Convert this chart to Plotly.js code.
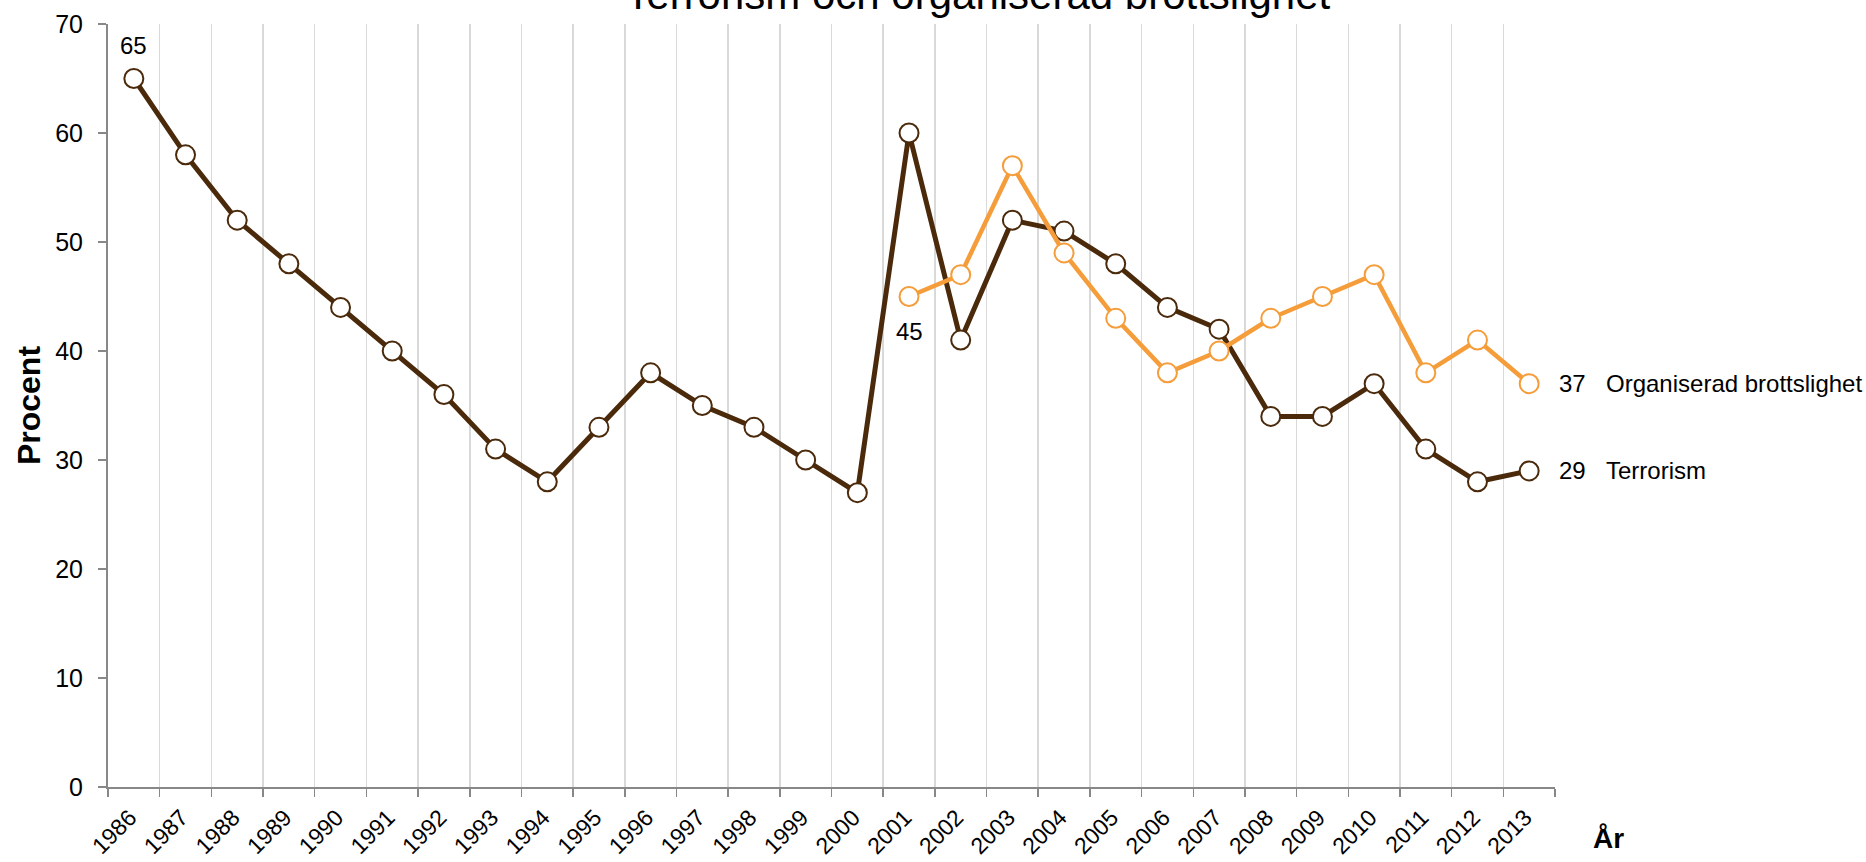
<!DOCTYPE html>
<html>
<head>
<meta charset="utf-8">
<script src="https://cdn.plot.ly/plotly-3.0.1.min.js"></script>
<style>html,body{margin:0;padding:0;background:#fff;}#chart{width:1866px;height:862px;}</style>
</head>
<body>
<div id="chart"></div>
<script>
const years = ['1986','1987','1988','1989','1990','1991','1992','1993','1994','1995','1996','1997','1998','1999','2000','2001','2002','2003','2004','2005','2006','2007','2008','2009','2010','2011','2012','2013'];
const terrorism = [65,58,52,48,44,40,36,31,28,33,38,35,33,30,27,60,41,52,51,48,44,42,34,34,37,31,28,29];
const orgYears = ['2001','2002','2003','2004','2005','2006','2007','2008','2009','2010','2011','2012','2013'];
const organiserad = [45,47,57,49,43,38,40,43,45,47,38,41,37];
const seriesNames = ['Terrorism','Organiserad brottslighet'];
const yTicks = [0,10,20,30,40,50,60,70];

const FONT = 'Liberation Sans, Arial, sans-serif';
const BROWN = '#4b2a0c';
const ORANGE = '#f59d3a';
const LBL = {family:FONT, size:24, color:'#000'};

const tTrace = {
  x: years, y: terrorism, type:'scatter', mode:'lines+markers', name: seriesNames[0],
  line:{color:BROWN, width:5},
  marker:{size:19, color:'#ffffff', line:{color:BROWN, width:2}},
  cliponaxis:false, hoverinfo:'x+y'
};
const oTrace = {
  x: orgYears, y: organiserad, type:'scatter', mode:'lines+markers', name: seriesNames[1],
  line:{color:ORANGE, width:4.5},
  marker:{size:19, color:'#ffffff', line:{color:ORANGE, width:2}},
  cliponaxis:false, hoverinfo:'x+y'
};

const tLast = terrorism.length-1, oLast = organiserad.length-1;
const idx = y => years.indexOf(y);

const layout = {
  width:1866, height:862,
  margin:{l:108, r:311, t:24, b:75},
  paper_bgcolor:'#fff', plot_bgcolor:'#fff',
  showlegend:false,
  font:{family:FONT, color:'#000'},
  title:{text:'Terrorism och organiserad brottslighet', font:{family:FONT, size:42, color:'#000'},
         x:0.524, xanchor:'center', xref:'container', y:0.99, yanchor:'bottom', yref:'container'},
  xaxis:{
    type:'category', categoryorder:'array', categoryarray: years,
    range:[-0.5, years.length-0.5],
    tickson:'boundaries', ticks:'outside', ticklen:8, tickcolor:'#888', tickwidth:1.5,
    showline:true, linecolor:'#888', linewidth:2,
    showgrid:true, gridcolor:'#d9d9d9', gridwidth:1.5,
    tickangle:-45, tickfont:{family:FONT, size:23, color:'#000'}, ticklabelstandoff:6, ticklabelshift:-4,
    zeroline:false, fixedrange:true
  },
  yaxis:{
    range:[0,70], tickvals: yTicks, ticktext: yTicks.map(String),
    ticks:'outside', ticklen:8, tickcolor:'#888', tickwidth:1.5,
    showline:true, linecolor:'#888', linewidth:2,
    showgrid:false, zeroline:false,
    tickfont:{family:FONT, size:25, color:'#000'}, ticklabelstandoff:10,
    title:{text:'<b>Procent</b>', font:{family:FONT, size:32, color:'#000'}, standoff:5},
    fixedrange:true
  },
  annotations:[
    {x: idx(years[0]), y: terrorism[0], xref:'x', yref:'y', text:String(terrorism[0]), showarrow:false,
     xanchor:'center', yanchor:'middle', yshift:33, font:LBL},
    {x: idx(orgYears[0]), y: organiserad[0], xref:'x', yref:'y', text:String(organiserad[0]), showarrow:false,
     xanchor:'center', yanchor:'middle', yshift:-35, font:LBL},
    {x: idx(orgYears[oLast]), y: organiserad[oLast], xref:'x', yref:'y', text:String(organiserad[oLast]), showarrow:false,
     xanchor:'left', yanchor:'middle', xshift:28, font:LBL},
    {x: idx(years[tLast]), y: terrorism[tLast], xref:'x', yref:'y', text:String(terrorism[tLast]), showarrow:false,
     xanchor:'left', yanchor:'middle', xshift:28, font:LBL},
    {xref:'paper', yref:'y', x:1.034, y: organiserad[oLast], text: seriesNames[1],
     showarrow:false, xanchor:'left', yanchor:'middle', font:LBL},
    {xref:'paper', yref:'y', x:1.034, y: terrorism[tLast], text: seriesNames[0],
     showarrow:false, xanchor:'left', yanchor:'middle', font:LBL},
    {xref:'paper', yref:'paper', x:1.025, y:-0.068, text:'<b>År</b>', showarrow:false,
     xanchor:'left', yanchor:'middle', font:{family:FONT, size:28, color:'#000'}}
  ]
};

Plotly.newPlot('chart', [tTrace, oTrace], layout, {displayModeBar:false, staticPlot:true});
</script>
</body>
</html>
